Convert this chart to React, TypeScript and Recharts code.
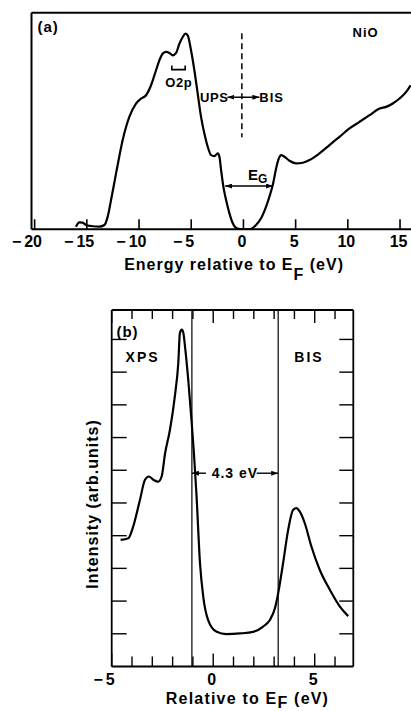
import React from 'react';
import { LineChart, Line, XAxis, YAxis, ReferenceLine, ReferenceDot } from 'recharts';

const FONT = "'Liberation Sans', Arial, Helvetica, sans-serif";

// ---------- Panel (a): NiO UPS + BIS ----------
const energyA = [-16.04, -15.72, -15.4, -15.08, -14.6, -13.8, -13.32, -13.0, -12.68, -12.2, -11.57, -10.93, -10.29, -9.81, -9.33, -8.85, -8.37, -8.05, -7.73, -7.41, -7.09, -6.77, -6.45, -6.13, -5.81, -5.56, -5.34, -5.02, -4.7, -4.38, -4.06, -3.74, -3.42, -3.1, -2.78, -2.46, -2.3, -2.14, -1.92, -1.66, -1.34, -1.02, -0.64, -0.06, 0.58, 1.21, 1.69, 2.17, 2.49, 2.81, 3.13, 3.39, 3.61, 3.93, 4.41, 5.05, 5.69, 6.33, 7.28, 8.24, 9.2, 10.16, 11.12, 12.08, 13.04, 13.67, 14.31, 14.95, 15.59, 16.01];
const intensityA = [0.8, 2.1, 2.0, 1.3, 1.0, 0.8, 1.3, 3.8, 8.8, 16.8, 26.8, 33.8, 37.8, 39.3, 40.3, 43.3, 47.8, 50.8, 52.8, 53.3, 53.0, 52.3, 53.0, 55.8, 57.8, 58.8, 58.3, 53.8, 47.8, 40.8, 33.8, 28.8, 24.8, 22.3, 22.0, 22.8, 21.8, 17.8, 12.8, 8.8, 4.8, 1.8, 0.3, 0, 0, 1.3, 3.3, 6.8, 9.8, 13.3, 18.3, 21.3, 22.3, 21.8, 20.6, 19.8, 20.0, 20.8, 22.8, 25.3, 27.8, 30.3, 32.3, 34.3, 36.3, 36.8, 37.8, 39.3, 41.3, 43.3];
const xTicksA = [-20, -15, -10, -5, 0, 5, 10, 15];
const xDomainA = [-20.3, 16.3];
const yDomainA = [0, 65.1];

// annotation anchors (data units) for panel (a)
const labelPanelA = [-18.7, 60.8];
const labelNiO = [11.7, 59.3];
const labelO2p = [-6.2, 44.3];
const bracketO2p = [-6.86, -5.58, 48.0];
const fermiDash = [-0.15, 58.9, 27.7];
const upsBisArrow = [-1.53, 1.53, 39.7];
const labelUPS = [-2.8, 39.7];
const labelBIS = [2.7, 39.7];
const gapArrowA = [-1.75, 2.84, 13.0];
const labelEG = [1.36, 14.8];

// ---------- Panel (b): XPS + BIS ----------
const energyB = [-4.56, -4.18, -3.94, -3.61, -3.36, -3.17, -2.95, -2.71, -2.54, -2.37, -2.13, -1.89, -1.72, -1.64, -1.55, -1.47, -1.39, -1.23, -1.07, -0.95, -0.82, -0.65, -0.49, -0.25, 0.17, 0.65, 1.32, 1.97, 2.46, 2.79, 3.04, 3.2, 3.44, 3.69, 3.94, 4.1, 4.26, 4.51, 4.84, 5.25, 5.75, 6.24, 6.65];
const intensityB = [3.87, 3.92, 4.28, 5.09, 5.71, 5.81, 5.71, 5.65, 5.81, 6.52, 7.24, 8.26, 9.28, 10.2, 10.3, 10.2, 9.79, 8.77, 7.54, 6.52, 5.2, 3.15, 2.13, 1.42, 1.06, 0.99, 1.01, 1.06, 1.22, 1.42, 1.78, 2.24, 3.15, 4.17, 4.79, 4.84, 4.74, 4.38, 3.66, 2.95, 2.34, 1.83, 1.54];
const xTicksB = [-5, -4, -3, -2, -1, 0, 1, 2, 3, 4, 5, 6];
const xLabelsB = [-5, 0, 5];
const yTicksB = [1, 2, 3, 4, 5, 6, 7, 8, 9, 10];
const xDomainB = [-5, 6.9];
const yDomainB = [0, 10.9];
const gapEdgesB = [-1.05, 3.2];

const labelPanelB = [-4.22, 10.24];
const labelXPS = [-3.48, 9.47];
const labelBISb = [4.72, 9.47];
const labelGapB = [1.07, 5.91];
const gapArrowLeftB = [-0.36, -1.05, 5.91];
const gapArrowRightB = [2.14, 3.2, 5.91];

const dataA = energyA.map((e, i) => ({ e, v: intensityA[i] }));
const dataB = energyB.map((e, i) => ({ e, v: intensityB[i] }));

// ---------- helpers ----------
const SignedNumber = ({ x, y, value, size }: any) => {
  const digits = String(Math.abs(value));
  const cx = x - 1.5;
  const half = digits.length * size * 0.278;
  return (
    <g fontFamily={FONT} fontWeight="bold" fontSize={size} fill="#000">
      <text x={cx} y={y} textAnchor="middle">{digits}</text>
      {value < 0 ? (
        <text x={cx - half - 3} y={y} textAnchor="end">{'\u2212'}</text>
      ) : null}
    </g>
  );
};

const tickBottomA = (props: any) => {
  const { x, y, payload } = props;
  return (
    <g>
      <line x1={x} x2={x} y1={y} y2={y - 10} stroke="#000" strokeWidth={1.6} />
      <SignedNumber x={x} y={y + 18} value={payload.value} size={16} />
    </g>
  );
};

const tickBottomB = (props: any) => {
  const { x, y, payload } = props;
  const major = xLabelsB.includes(payload.value);
  return (
    <g>
      <line x1={x} x2={x} y1={y} y2={y - (major ? 13 : 10)} stroke="#000" strokeWidth={1.4} />
      {major ? <SignedNumber x={x} y={y + 18.5} value={payload.value} size={16} /> : null}
    </g>
  );
};

const tickTopB = (props: any) => {
  const { x, y, payload } = props;
  const major = xLabelsB.includes(payload.value);
  return <line x1={x} x2={x} y1={y} y2={y + (major ? 13 : 9)} stroke="#000" strokeWidth={1.4} />;
};

const tickLeftB = (props: any) => {
  const { x, y } = props;
  return <line x1={x} x2={x + 15} y1={y} y2={y} stroke="#000" strokeWidth={1.4} />;
};

const tickRightB = (props: any) => {
  const { x, y } = props;
  return <line x1={x} x2={x - 14} y1={y} y2={y} stroke="#000" strokeWidth={1.4} />;
};

const textShape = (label: string, size = 14, spacing = 1) => (p: any) => (
  <text
    x={p.cx}
    y={p.cy}
    dy="0.36em"
    textAnchor="middle"
    fontFamily={FONT}
    fontWeight="bold"
    fontSize={size}
    letterSpacing={spacing}
    fill="#000"
  >
    {label}
  </text>
);

const egShape = (p: any) => (
  <text x={p.cx} y={p.cy} textAnchor="middle" fontFamily={FONT} fontWeight="bold" fontSize={15} fill="#000">
    E<tspan dy={3} fontSize={12}>G</tspan>
  </text>
);

const arrowBoth = (p: any) => (
  <line x1={p.x1} y1={p.y1} x2={p.x2} y2={p.y2} stroke="#000" strokeWidth={1.4} markerStart="url(#ahead)" markerEnd="url(#ahead)" />
);

const arrowEnd = (p: any) => (
  <line x1={p.x1} y1={p.y1} x2={p.x2} y2={p.y2} stroke="#000" strokeWidth={1.4} markerEnd="url(#ahead)" />
);

const bracketShape = (p: any) => (
  <path
    d={`M${p.x1},${p.y1 - 4} L${p.x1},${p.y1} L${p.x2},${p.y2} L${p.x2},${p.y2 - 4}`}
    fill="none"
    stroke="#000"
    strokeWidth={1.6}
  />
);

const titleA = (props: any) => {
  const vb = props.viewBox || { x: 31.5, y: 229.3, width: 382, height: 55.7 };
  return (
    <text
      x={vb.x + vb.width / 2 + 11.5}
      y={vb.y + 40.7}
      textAnchor="middle"
      fontFamily={FONT}
      fontWeight="bold"
      fontSize={16}
      letterSpacing={1}
      fill="#000"
    >
      Energy relative to E<tspan dy={10}>F</tspan>
      <tspan dy={-10}> (eV)</tspan>
    </text>
  );
};

const titleB = (props: any) => {
  const vb = props.viewBox || { x: 111.7, y: 381.5, width: 241.6, height: 44.5 };
  return (
    <text
      x={vb.x + vb.width / 2 + 15}
      y={vb.y + 37.5}
      textAnchor="middle"
      fontFamily={FONT}
      fontWeight="bold"
      fontSize={16}
      letterSpacing={1.2}
      fill="#000"
    >
      Relative to E<tspan dy={4}>F</tspan>
      <tspan dy={-4}> (eV)</tspan>
    </text>
  );
};

const yTitleB = (props: any) => {
  const vb = props.viewBox || { x: 110.7, y: 25, width: 1, height: 356.5 };
  const tx = vb.x + vb.width - 13.7;
  const ty = vb.y + vb.height / 2 + 15.75;
  return (
    <text
      x={tx}
      y={ty}
      transform={`rotate(-90, ${tx}, ${ty})`}
      textAnchor="middle"
      fontFamily={FONT}
      fontWeight="bold"
      fontSize={16}
      letterSpacing={1}
      fill="#000"
    >
      Intensity (arb.units)
    </text>
  );
};

const axisStroke = { stroke: '#000', strokeWidth: 2 };
const axisStrokeB = { stroke: '#000', strokeWidth: 1.8 };

export default function App() {
  return (
    <div style={{ position: 'absolute', left: 0, top: 0, width: 411, height: 711, overflow: 'hidden', background: '#fff' }}>
      <svg width={0} height={0} style={{ position: 'absolute' }}>
        <defs>
          <marker id="ahead" viewBox="0 0 7 5" refX={7} refY={2.5} markerWidth={7} markerHeight={5} markerUnits="userSpaceOnUse" orient="auto-start-reverse">
            <path d="M0,0 L7,2.5 L0,5 z" fill="#000" />
          </marker>
        </defs>
      </svg>

      <div style={{ position: 'absolute', left: 0, top: 0 }}>
        <LineChart width={430} height={285} data={dataA} margin={{ top: 11.7, right: 16.4, bottom: 0, left: 30.5 }}>
          <XAxis
            dataKey="e"
            type="number"
            domain={xDomainA}
            allowDataOverflow
            ticks={xTicksA}
            interval={0}
            tickLine={false}
            tickSize={0}
            tickMargin={0}
            tick={tickBottomA}
            height={55.7}
            axisLine={axisStroke}
            label={{ content: titleA }}
          />
          <XAxis xAxisId="top" dataKey="e" orientation="top" type="number" domain={xDomainA} allowDataOverflow height={1} tick={false} tickLine={false} axisLine={axisStroke} />
          <YAxis type="number" domain={yDomainA} allowDataOverflow width={1} tick={false} tickLine={false} axisLine={axisStroke} />
          <ReferenceLine
            segment={[{ x: fermiDash[0], y: fermiDash[1] }, { x: fermiDash[0], y: fermiDash[2] }]}
            stroke="#000"
            strokeWidth={1.5}
            strokeDasharray="6 4"
          />
          <ReferenceLine segment={[{ x: upsBisArrow[0], y: upsBisArrow[2] }, { x: upsBisArrow[1], y: upsBisArrow[2] }]} shape={arrowBoth} />
          <ReferenceLine segment={[{ x: gapArrowA[0], y: gapArrowA[2] }, { x: gapArrowA[1], y: gapArrowA[2] }]} shape={arrowBoth} />
          <ReferenceLine segment={[{ x: bracketO2p[0], y: bracketO2p[2] }, { x: bracketO2p[1], y: bracketO2p[2] }]} shape={bracketShape} />
          <Line type="monotone" dataKey="v" stroke="#000" strokeWidth={2.2} dot={false} isAnimationActive={false} />
          <ReferenceDot x={labelPanelA[0]} y={labelPanelA[1]} r={0} shape={textShape('(a)', 15, 1)} />
          <ReferenceDot x={labelNiO[0]} y={labelNiO[1]} r={0} shape={textShape('NiO', 13, 1)} />
          <ReferenceDot x={labelO2p[0]} y={labelO2p[1]} r={0} shape={textShape('O2p', 13, 0.5)} />
          <ReferenceDot x={labelUPS[0]} y={labelUPS[1]} r={0} shape={textShape('UPS', 13, 0.5)} />
          <ReferenceDot x={labelBIS[0]} y={labelBIS[1]} r={0} shape={textShape('BIS', 13, 1)} />
          <ReferenceDot x={labelEG[0]} y={labelEG[1]} r={0} shape={egShape} />
        </LineChart>
      </div>

      <div style={{ position: 'absolute', left: 0, top: 285 }}>
        <LineChart width={411} height={426} data={dataB} margin={{ top: 24, right: 56.7, bottom: 0, left: 110.7 }}>
          <XAxis
            dataKey="e"
            type="number"
            domain={xDomainB}
            allowDataOverflow
            ticks={xTicksB}
            interval={0}
            tickLine={false}
            tickSize={0}
            tickMargin={0}
            tick={tickBottomB}
            height={44.5}
            axisLine={axisStrokeB}
            label={{ content: titleB }}
          />
          <XAxis
            xAxisId="top"
            dataKey="e"
            orientation="top"
            type="number"
            scale="linear"
            domain={xDomainB}
            allowDataOverflow
            ticks={xTicksB}
            interval={0}
            tickLine={false}
            tickSize={0}
            tickMargin={0}
            tick={tickTopB}
            height={1}
            axisLine={axisStrokeB}
          />
          <YAxis
            type="number"
            domain={yDomainB}
            allowDataOverflow
            ticks={yTicksB}
            interval={0}
            tickLine={false}
            tickSize={0}
            tickMargin={0}
            tick={tickLeftB}
            width={1}
            axisLine={axisStrokeB}
            label={{ content: yTitleB }}
          />
          <YAxis
            yAxisId="right"
            orientation="right"
            type="number"
            domain={yDomainB}
            allowDataOverflow
            ticks={yTicksB}
            interval={0}
            tickLine={false}
            tickSize={0}
            tickMargin={0}
            tick={tickRightB}
            width={1}
            axisLine={axisStrokeB}
          />
          {gapEdgesB.map((g) => (
            <ReferenceLine key={g} x={g} stroke="#000" strokeWidth={1.2} />
          ))}
          <ReferenceLine segment={[{ x: gapArrowLeftB[0], y: gapArrowLeftB[2] }, { x: gapArrowLeftB[1], y: gapArrowLeftB[2] }]} shape={arrowEnd} />
          <ReferenceLine segment={[{ x: gapArrowRightB[0], y: gapArrowRightB[2] }, { x: gapArrowRightB[1], y: gapArrowRightB[2] }]} shape={arrowEnd} />
          <Line type="monotone" dataKey="v" stroke="#000" strokeWidth={2.2} dot={false} isAnimationActive={false} />
          <ReferenceDot x={labelPanelB[0]} y={labelPanelB[1]} r={0} shape={textShape('(b)', 15, 1)} />
          <ReferenceDot x={labelXPS[0]} y={labelXPS[1]} r={0} shape={textShape('XPS', 14, 2)} />
          <ReferenceDot x={labelBISb[0]} y={labelBISb[1]} r={0} shape={textShape('BIS', 14, 2)} />
          <ReferenceDot x={labelGapB[0]} y={labelGapB[1]} r={0} shape={textShape('4.3 eV', 14, 1)} />
        </LineChart>
      </div>
    </div>
  );
}
